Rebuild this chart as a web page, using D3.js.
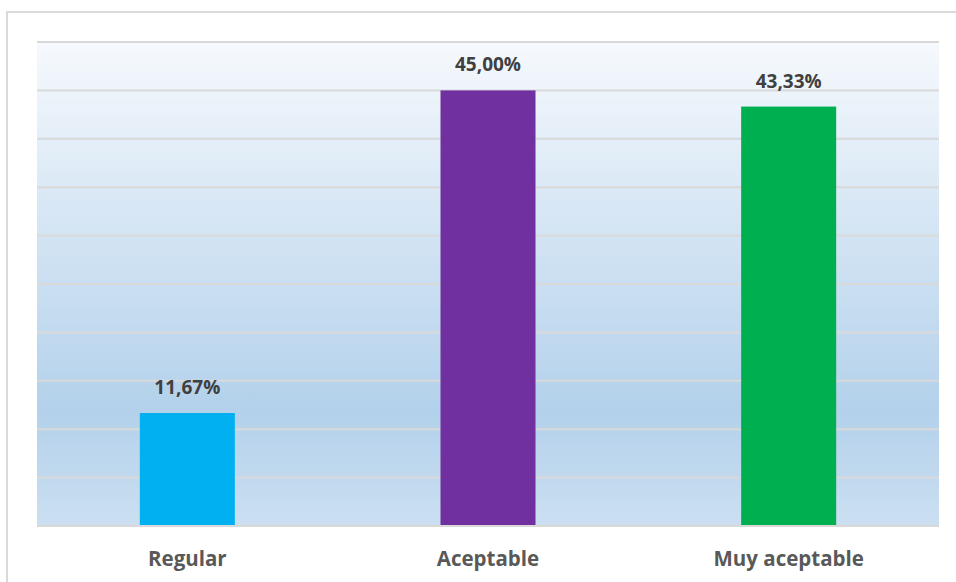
<!DOCTYPE html>
<html>
<head>
<meta charset="utf-8">
<script src="https://cdn.jsdelivr.net/npm/d3@7"></script>
<style>
  html, body { margin: 0; padding: 0; background: #ffffff; }
  svg { display: block; }
</style>
</head>
<body>
<svg id="chart" width="956" height="582"></svg>
<script>
const categories = ["Regular", "Aceptable", "Muy aceptable"];
const values = [11.67, 45.00, 43.33];
const barColors = ["#00b0f0", "#7030a0", "#00b050"];
const yTicks = [0, 5, 10, 15, 20, 25, 30, 35, 40, 45, 50];

const svg = d3.select("#chart");
const W = 956, H = 582;
const margin = { left: 37, right: 17, top: 42, bottom: 56 };
const x0 = margin.left, x1 = W - margin.right;
const y0 = margin.top, y1 = H - margin.bottom;

// Outer frame (left and top edges visible)
svg.append("rect")
  .attr("x", 7).attr("y", 12)
  .attr("width", W + 20).attr("height", H + 20)
  .attr("fill", "#ffffff")
  .attr("stroke", "#d9d9d9").attr("stroke-width", 2);

const defs = svg.append("defs");
const grad = defs.append("linearGradient")
  .attr("id", "bg").attr("x1", 0).attr("y1", 0).attr("x2", 0).attr("y2", 1);
grad.append("stop").attr("offset", "0%").attr("stop-color", "#f6f9fd");
grad.append("stop").attr("offset", "76%").attr("stop-color", "#b3d1eb");
grad.append("stop").attr("offset", "100%").attr("stop-color", "#cbdff1");

const x = d3.scaleBand().domain(categories).range([x0, x1]).paddingInner(0.684).paddingOuter(0.342);
const y = d3.scaleLinear().domain([0, 50]).range([y1, y0]);

svg.append("rect")
  .attr("x", x0).attr("y", y0)
  .attr("width", x1 - x0).attr("height", y1 - y0)
  .attr("fill", "url(#bg)");

// Gridlines
svg.append("g").selectAll("line")
  .data(yTicks)
  .join("line")
  .attr("x1", x0).attr("x2", x1)
  .attr("y1", d => y(d)).attr("y2", d => y(d))
  .attr("stroke", "#d9d9d9").attr("stroke-width", 2);

// Bars
svg.append("g").selectAll("rect")
  .data(values)
  .join("rect")
  .attr("x", (d, i) => x(categories[i]))
  .attr("y", d => y(d))
  .attr("width", x.bandwidth())
  .attr("height", d => y(0) - y(d) - 1)
  .attr("fill", (d, i) => barColors[i]);

// Value labels
const fmt = v => v.toFixed(2).replace(".", ",") + "%";
svg.append("g").selectAll("text")
  .data(values)
  .join("text")
  .attr("x", (d, i) => x(categories[i]) + x.bandwidth() / 2)
  .attr("y", d => y(d) - 19)
  .attr("text-anchor", "middle")
  .attr("font-family", "'Open Sans', sans-serif")
  .attr("font-weight", "bold")
  .attr("font-size", 19)
  .attr("fill", "#404040")
  .text(fmt);

// X axis
const xAxis = svg.append("g")
  .attr("transform", `translate(0,${y1})`)
  .call(d3.axisBottom(x).tickSize(0));
xAxis.select(".domain").remove();
xAxis.selectAll("text")
  .attr("y", 40).attr("dy", 0)
  .attr("font-family", "'Open Sans', sans-serif")
  .attr("font-weight", "bold")
  .attr("font-size", 20.5)
  .attr("fill", "#595959");
</script>
</body>
</html>
